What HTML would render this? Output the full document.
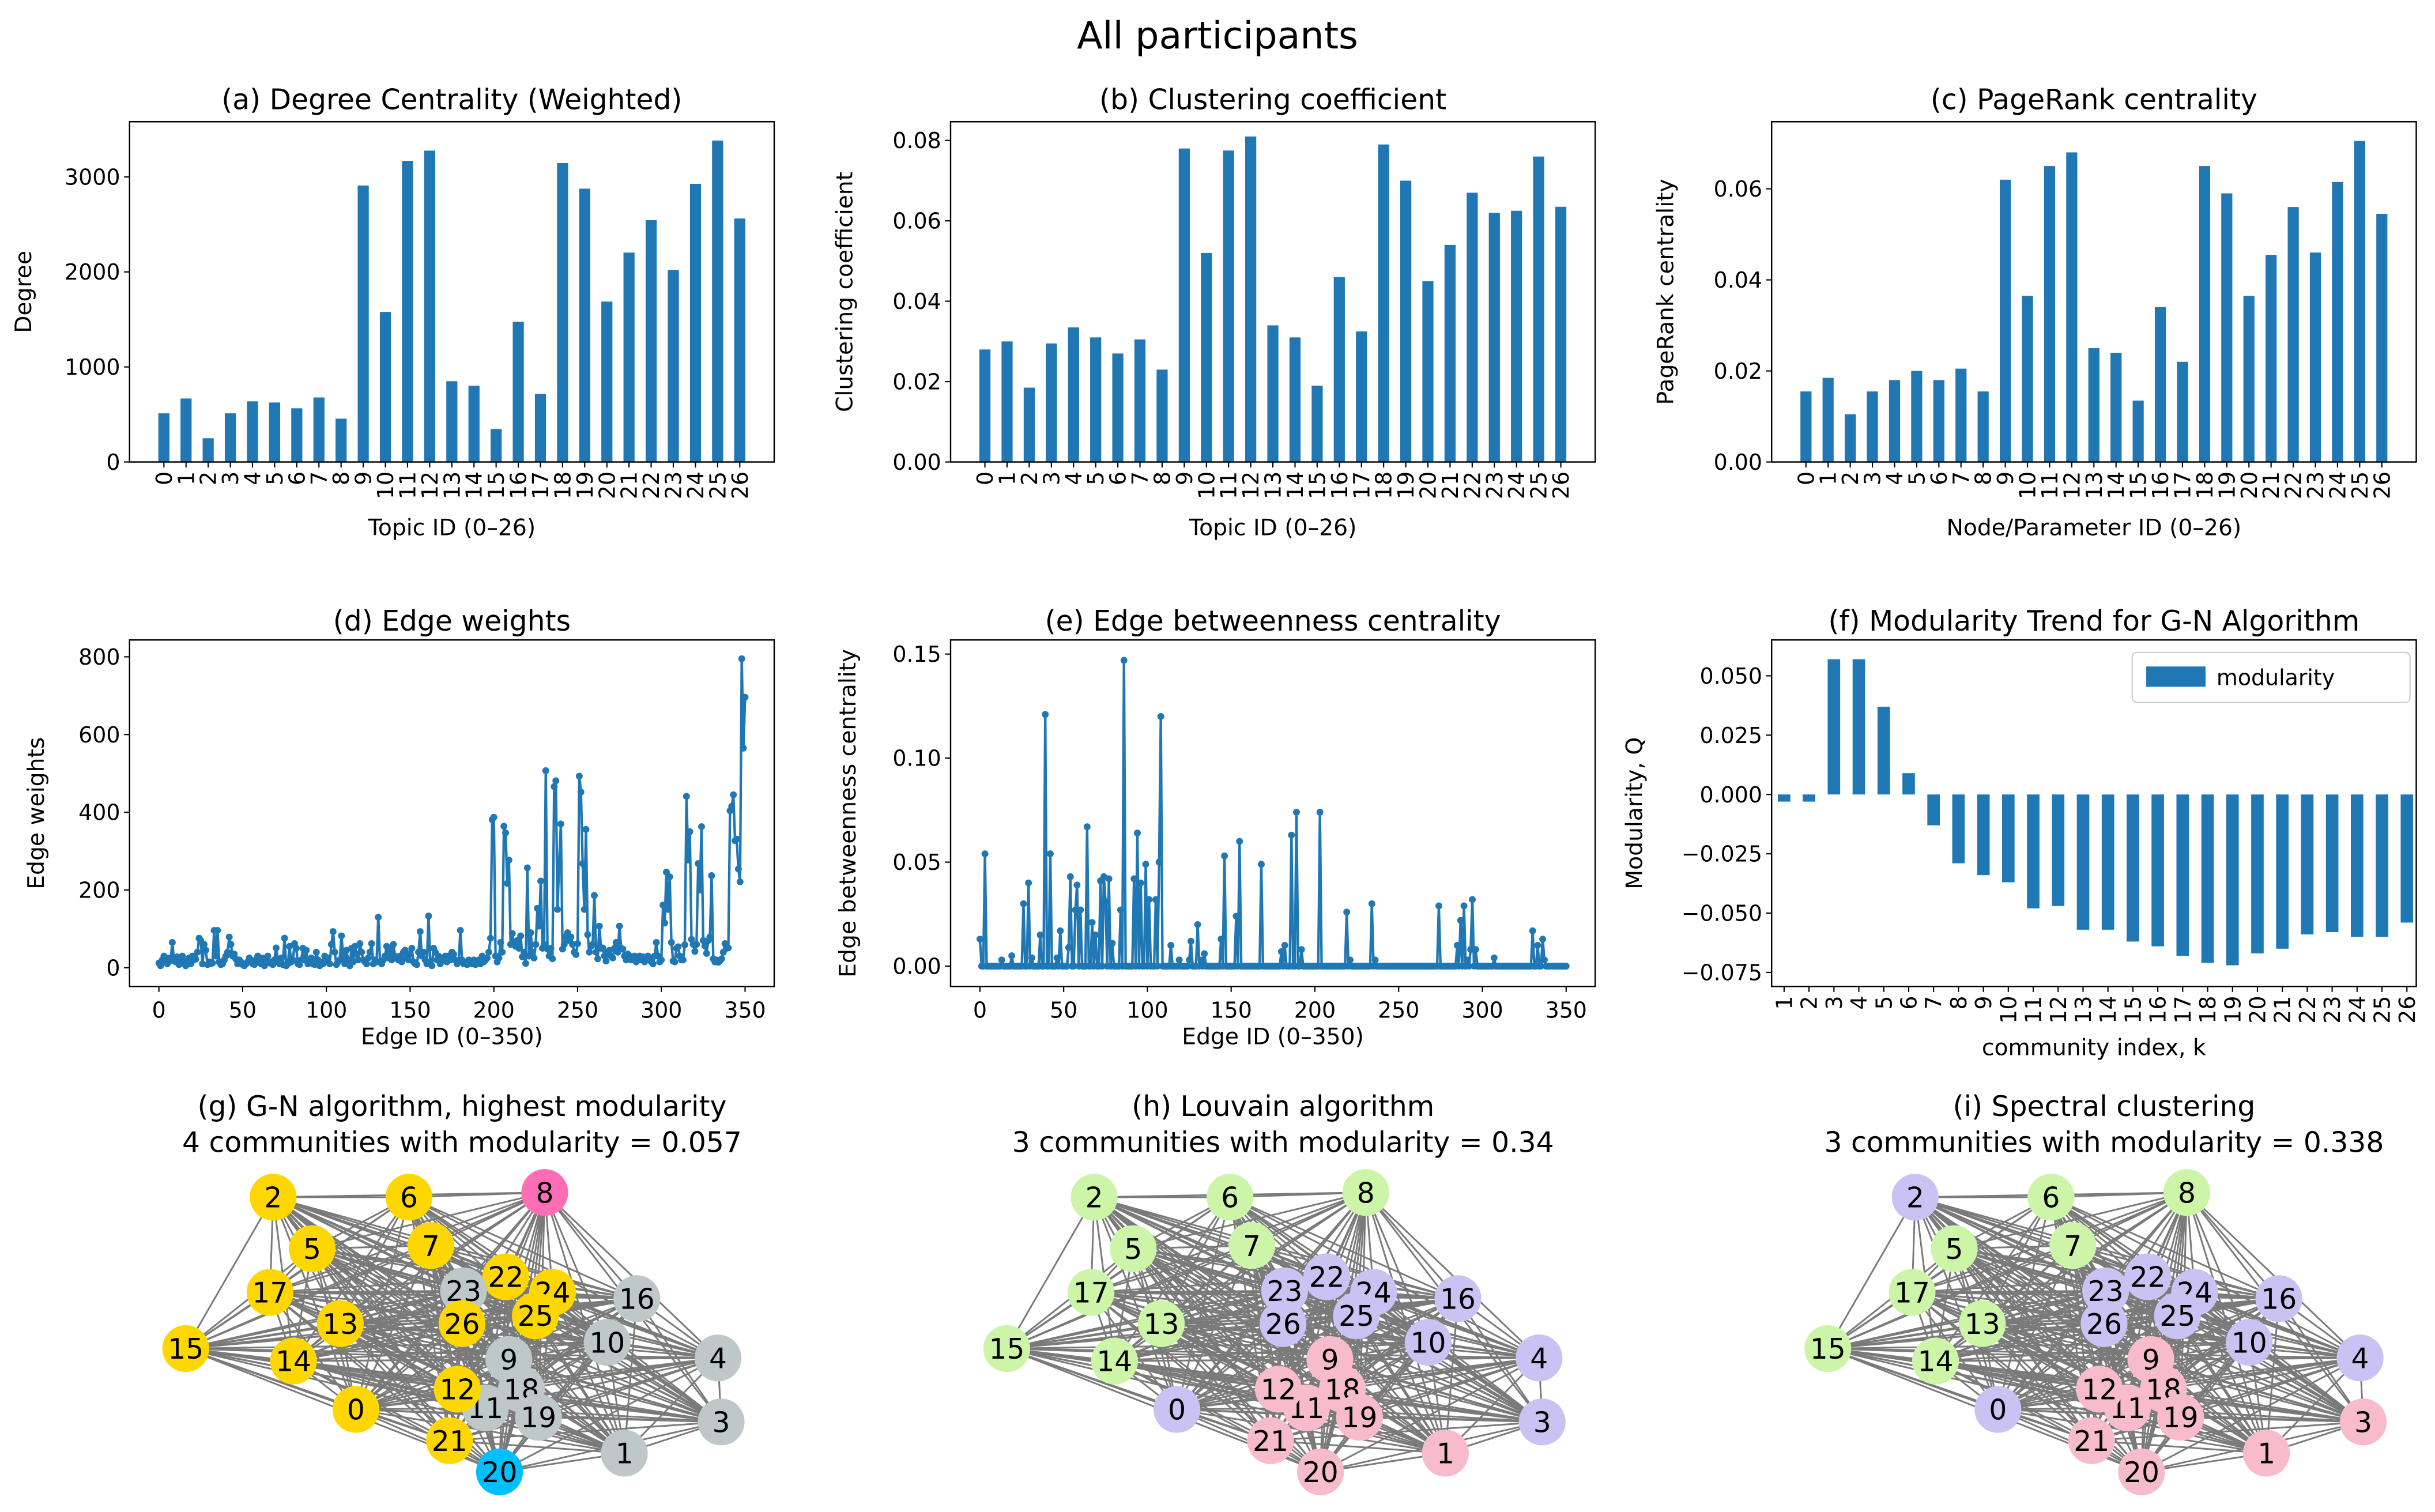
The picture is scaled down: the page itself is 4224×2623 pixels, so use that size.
<!DOCTYPE html>
<html><head><meta charset="utf-8"><style>
html,body{margin:0;padding:0;background:#fff;}
svg{display:block;font-family:"DejaVu Sans","Liberation Sans",sans-serif;}
</style></head><body>
<svg id="chart" xmlns="http://www.w3.org/2000/svg" width="4224" height="2623" viewBox="0 0 1560 968.7" preserveAspectRatio="none">
<rect x="0" y="0" width="1560" height="968.7" fill="#fff"/>
<text x="780" y="31" text-anchor="middle" font-size="24">All participants</text>
</svg>
<script>
// ---- data ----
const topicIds = [0,1,2,3,4,5,6,7,8,9,10,11,12,13,14,15,16,17,18,19,20,21,22,23,24,25,26];
const degreeVals = [512,668,250,512,638,626,565,679,456,2909,1579,3168,3276,850,803,347,1476,718,3144,2876,1688,2203,2544,2021,2926,3382,2562];
const degreeTicks = [0,1000,2000,3000];
const clusteringVals = [0.028,0.030,0.0185,0.0295,0.0335,0.031,0.027,0.0305,0.023,0.078,0.052,0.0775,0.081,0.034,0.031,0.019,0.046,0.0325,0.079,0.070,0.045,0.054,0.067,0.062,0.0625,0.076,0.0635];
const clusteringTicks = ["0.00","0.02","0.04","0.06","0.08"];
const pagerankVals = [0.0155,0.0185,0.0105,0.0155,0.018,0.020,0.018,0.0205,0.0155,0.062,0.0365,0.065,0.068,0.025,0.024,0.0135,0.034,0.022,0.065,0.059,0.0365,0.0455,0.056,0.046,0.0615,0.0705,0.0545];
const pagerankTicks = ["0.00","0.02","0.04","0.06"];
const edgeWeights = [
12,5,20,30,15,10,25,18,65,20,15,28,8,22,30,12,5,18,25,10,30,20,22,40,76,
70,10,60,45,8,15,10,12,96,30,96,15,8,10,20,30,40,79,60,30,35,22,10,20,15,
8,5,10,15,25,20,10,8,20,30,15,10,25,5,18,30,12,15,8,20,51,20,10,25,8,
76,5,10,55,15,20,62,50,10,8,20,50,20,45,10,15,25,10,8,40,20,5,15,10,30,
20,25,10,60,93,40,8,15,20,82,30,10,45,20,5,50,15,55,35,20,62,40,20,15,10,
25,40,62,10,20,15,130,15,10,20,30,55,25,50,20,60,30,25,20,30,15,40,45,25,20,
35,50,15,10,8,40,93,30,40,20,10,133,15,5,50,40,20,30,10,25,20,30,15,30,20,
40,35,20,10,15,96,20,10,15,8,20,15,10,20,8,15,20,10,30,15,20,25,40,76,381,
387,30,15,25,65,40,364,347,217,277,60,88,62,55,70,50,82,28,40,11,257,30,90,40,25,
60,153,107,223,50,60,507,48,30,50,23,466,481,150,274,370,48,60,80,90,70,79,60,40,34,
62,493,452,268,150,356,85,40,55,60,186,40,23,107,50,51,30,17,40,45,30,25,50,65,40,
107,50,48,30,20,35,30,20,28,30,15,25,30,20,28,15,20,30,25,15,10,30,65,30,15,
20,161,115,246,150,234,65,17,15,50,54,30,20,20,59,441,277,350,73,60,42,60,268,200,363,
70,56,37,70,79,237,23,15,20,14,18,23,40,62,50,51,404,415,445,327,331,254,221,795,565,
696];
const weightTicks = [0,200,400,600,800];
const edgeTicks = [0,50,100,150,200,250,300,350];
const betweenness = [
.013,0,0,.054,0,0,0,0,0,0,0,0,0,.003,0,0,0,0,0,.005,0,0,0,0,0,
0,.030,0,0,.040,0,.004,0,0,0,0,.015,0,0,.121,0,0,.054,0,0,0,.004,0,.017,0,
0,0,0,.009,.043,0,0,.027,.039,0,.027,0,0,0,.067,0,0,.021,0,.015,0,0,.041,0,.043,
.031,0,.042,0,.011,0,0,0,0,.027,0,.147,0,0,0,0,0,.042,0,.064,0,.040,0,0,.049,
0,.032,0,0,0,.032,0,.050,.120,0,0,0,0,0,.010,0,0,0,0,.003,0,0,0,0,0,
.003,.012,0,0,0,.020,0,.003,0,.006,0,0,0,0,0,0,0,0,0,.013,0,.053,0,0,0,
0,0,0,.024,0,.060,0,0,0,0,0,0,0,0,0,0,0,0,.049,0,0,0,0,0,0,
0,0,0,0,0,.007,0,.010,0,0,0,.063,0,0,.074,0,0,.008,0,0,0,0,0,0,0,
0,0,0,.074,0,0,0,0,0,0,0,0,0,0,0,0,0,0,0,.026,0,.003,0,0,0,
0,0,0,0,0,0,0,0,0,.030,0,.003,0,0,0,0,0,0,0,0,0,0,0,0,0,
0,0,0,0,0,0,0,0,0,0,0,0,0,0,0,0,0,0,0,0,0,0,0,0,.029,
0,0,0,0,0,0,0,0,0,0,.010,0,.022,0,.029,0,.003,0,.008,.032,0,.008,0,0,0,
0,0,0,0,0,0,0,.004,0,0,0,0,0,0,0,0,0,0,0,0,0,0,0,0,0,
0,0,0,0,0,.017,0,0,.010,0,0,.013,.003,0,0,0,0,0,0,0,0,0,0,0,0,
0];
const betweenTicks = ["0.00","0.05","0.10","0.15"];
const communityK = [1,2,3,4,5,6,7,8,9,10,11,12,13,14,15,16,17,18,19,20,21,22,23,24,25,26];
const modularityVals = [-0.003,-0.003,0.057,0.057,0.037,0.009,-0.013,-0.029,-0.034,-0.037,-0.048,-0.047,-0.057,-0.057,-0.062,-0.064,-0.068,-0.071,-0.072,-0.067,-0.065,-0.059,-0.058,-0.060,-0.060,-0.054];
const modTicks = [0.05,0.025,0,-0.025,-0.05,-0.075];
const modTickLabels = ["0.050","0.025","0.000","\u22120.025","\u22120.050","\u22120.075"];
const nodeX = [228,400,175,462,460,200,262,276,349,326,389,311,293,218,188,119,408,173,334,345,320,288,324,297,354,343,296];
const nodeY = [903,931,767,911,870,800,767,798,764,871,860,902,890,848,872,864,832,828,890,908,943,923,818,827,828,843,848];
const commGN = [0,2,0,2,2,0,0,0,1,2,2,2,0,0,0,0,2,0,2,2,3,0,0,2,0,0,0];
const commLouvain = [1,2,0,1,1,0,0,0,0,2,1,2,2,0,0,0,1,0,2,2,2,2,1,1,1,1,1];
const commSpectral = [1,2,1,2,1,0,0,0,0,2,1,2,2,0,0,0,1,0,2,2,2,2,1,1,1,1,1];
const gnColors = ["#FFD700","#FF6EB4","#BEC8C8","#00BFFF"];
const louvColors = ["#CCF5A8","#C9C2F2","#F8BBCB"];

// ---- helpers ----
const NS = "http://www.w3.org/2000/svg";
const svg = document.getElementById('chart');
function mk(tag, attrs, parent, name, inter){
  const e = document.createElementNS(NS, tag);
  for (const k in attrs) e.setAttribute(k, attrs[k]);
  
  
  (parent || svg).appendChild(e);
  return e;
}
function txt(x, y, s, size, anchor, parent, name, extra){
  const a = Object.assign({x:x, y:y, 'font-size':size, 'text-anchor':anchor||'middle'}, extra||{});
  const t = mk('text', a, parent, name);
  t.textContent = s;
  return t;
}
function frame(g, L, T, W, H){
  mk('rect', {x:L, y:T, width:W, height:H, fill:'none', stroke:'#000', 'stroke-width':0.9}, g, 'axes-frame');
}
function yTick(g, L, y, label){
  mk('line', {x1:L-3.5, x2:L, y1:y, y2:y, stroke:'#000', 'stroke-width':0.8}, g, 'y-tick');
  txt(L-6, y+5, label, 14, 'end', g, 'y-tick-label');
}
function xTick(g, x, B, label, rotated){
  mk('line', {x1:x, x2:x, y1:B, y2:B+3.5, stroke:'#000', 'stroke-width':0.8}, g, 'x-tick');
  if (rotated) txt(x+5, B+6, label, 14, 'end', g, 'x-tick-label', {transform:'rotate(-90 '+(x+5)+' '+(B+6)+')'});
  else txt(x, B+20, label, 14, 'middle', g, 'x-tick-label');
}
function panelGroup(name){ return mk('g', {}, svg, name); }

const COLW = 413, COLS = [83, 609, 1135];
const R1T = 78, R1B = 296, R2T = 410, R2B = 632;
const BLUE = '#1f77b4';

// ---- bar charts row 1 ----
function barPanel(name, L, vals, ticks, tickVals, yPerUnit, title, ylabel, xlabel){
  const g = panelGroup(name);
  const xs = i => L + 22 + i * 14.19;
  const ys = v => R1B - v * yPerUnit;
  vals.forEach((v, i) => {
    mk('rect', {x:xs(i)-3.55, y:ys(v), width:7.1, height:R1B-ys(v), fill:BLUE}, g, 'bar-topic-' + topicIds[i]);
  });
  frame(g, L, R1T, COLW, R1B-R1T);
  tickVals.forEach((tv, j) => yTick(g, L, ys(tv), ticks[j]));
  topicIds.forEach((id, i) => xTick(g, xs(i), R1B, String(id), true));
  txt(L + COLW/2, 70, title, 18, 'middle', g, 'panel-title');
  const yl = L - 63;
  txt(yl, (R1T+R1B)/2, ylabel, 14.5, 'middle', g, 'y-axis-title', {transform:'rotate(-90 '+yl+' '+((R1T+R1B)/2)+')'});
  txt(L + COLW/2, 343, xlabel, 14.5, 'middle', g, 'x-axis-title');
}
barPanel('panel-degree', COLS[0], degreeVals, degreeTicks.map(String), degreeTicks, 0.0609, '(a) Degree Centrality (Weighted)', 'Degree', 'Topic ID (0\u201326)');
barPanel('panel-clustering', COLS[1], clusteringVals, clusteringTicks, clusteringTicks.map(Number), 2575, '(b) Clustering coefficient', 'Clustering coefficient', 'Topic ID (0\u201326)');
barPanel('panel-pagerank', COLS[2], pagerankVals, pagerankTicks, pagerankTicks.map(Number), 2917, '(c) PageRank centrality', 'PageRank centrality', 'Node/Parameter ID (0\u201326)');

// ---- line panels row 2 ----
function linePanel(name, L, vals, ticks, tickVals, zeroY, yPerUnit, title, ylabel, ylOff){
  const g = panelGroup(name);
  const xs = i => L + 18.8 + i * 1.073;
  const ys = v => zeroY - v * yPerUnit;
  const pts = vals.map((v, i) => xs(i).toFixed(2) + ',' + ys(v).toFixed(2)).join(' ');
  mk('polyline', {points:pts, fill:'none', stroke:BLUE, 'stroke-width':1.6, 'stroke-linejoin':'round'}, g, 'series-line');
  vals.forEach((v, i) => {
    mk('circle', {cx:xs(i), cy:ys(v), r:2.2, fill:BLUE}, g, 'point-edge-' + i);
  });
  frame(g, L, R2T, COLW, R2B-R2T);
  tickVals.forEach((tv, j) => yTick(g, L, ys(tv), ticks[j]));
  edgeTicks.forEach(t => xTick(g, xs(t), R2B, String(t), false));
  txt(L + COLW/2, 404, title, 18, 'middle', g, 'panel-title');
  const yl = L - ylOff;
  txt(yl, (R2T+R2B)/2, ylabel, 14.5, 'middle', g, 'y-axis-title', {transform:'rotate(-90 '+yl+' '+((R2T+R2B)/2)+')'});
  txt(L + COLW/2, 669, 'Edge ID (0\u2013350)', 14.5, 'middle', g, 'x-axis-title');
}
linePanel('panel-edge-weights', COLS[0], edgeWeights, weightTicks.map(String), weightTicks, 620, 0.249, '(d) Edge weights', 'Edge weights', 55);
linePanel('panel-edge-betweenness', COLS[1], betweenness, betweenTicks, betweenTicks.map(Number), 619, 1333, '(e) Edge betweenness centrality', 'Edge betweenness centrality', 61);

// ---- modularity panel ----
(function(){
  const L = COLS[2];
  const g = panelGroup('panel-modularity');
  const xs = i => L + 8 + i * 15.96;
  const ys = v => 509 - v * 1520;
  modularityVals.forEach((v, i) => {
    const y0 = Math.min(ys(v), ys(0)), h = Math.abs(ys(v) - ys(0));
    mk('rect', {x:xs(i)-4, y:y0, width:8, height:h, fill:BLUE}, g, 'bar-k-' + communityK[i]);
  });
  frame(g, L, R2T, COLW, R2B-R2T);
  modTicks.forEach((tv, j) => yTick(g, L, ys(tv), modTickLabels[j]));
  communityK.forEach((k, i) => xTick(g, xs(i), R2B, String(k), true));
  txt(L + COLW/2, 404, '(f) Modularity Trend for G-N Algorithm', 18, 'middle', g, 'panel-title');
  const yl = L - 83;
  txt(yl, (R2T+R2B)/2, 'Modularity, Q', 14.5, 'middle', g, 'y-axis-title', {transform:'rotate(-90 '+yl+' '+((R2T+R2B)/2)+')'});
  txt(L + COLW/2, 676, 'community index, k', 14.5, 'middle', g, 'x-axis-title');
  const lg = mk('g', {}, g, 'legend', false);
  mk('rect', {x:1366, y:418, width:178, height:32, rx:3, fill:'#fff', stroke:'#ccc', 'stroke-width':0.8}, lg, 'legend-box');
  mk('rect', {x:1375, y:427, width:38, height:13, fill:BLUE}, lg, 'legend-swatch');
  txt(1420, 439, 'modularity', 14, 'start', lg, 'legend-label');
})();

// ---- network panels ----
function network(name, dx, comm, colors, t1, t2){
  const g = panelGroup(name);
  const n = nodeX.length;
  const eg = mk('g', {stroke:'#7a7a7a', 'stroke-width':1.1}, g, 'edges');
  for (let i = 0; i < n; i++) for (let j = i + 1; j < n; j++) {
    mk('line', {x1:nodeX[i]+dx, y1:nodeY[i], x2:nodeX[j]+dx, y2:nodeY[j]}, eg, 'edge');
  }
  for (let i = 0; i < n; i++) {
    const ng = mk('g', {}, g, 'node-' + i, true);
    mk('circle', {cx:nodeX[i]+dx, cy:nodeY[i], r:15, fill:colors[comm[i]]}, ng, 'node-circle');
    txt(nodeX[i]+dx, nodeY[i]+6.5, String(i), 18, 'middle', ng, 'node-label');
  }
  txt(296+dx, 715, t1, 18, 'middle', g, 'panel-title');
  txt(296+dx, 738, t2, 18, 'middle', g, 'panel-subtitle');
}
network('panel-gn-network', 0, commGN, gnColors, '(g) G-N algorithm, highest modularity', '4 communities with modularity = 0.057');
network('panel-louvain-network', 526, commLouvain, louvColors, '(h) Louvain algorithm', '3 communities with modularity = 0.34');
network('panel-spectral-network', 1052, commSpectral, louvColors, '(i) Spectral clustering', '3 communities with modularity = 0.338');
</script>
</body></html>
